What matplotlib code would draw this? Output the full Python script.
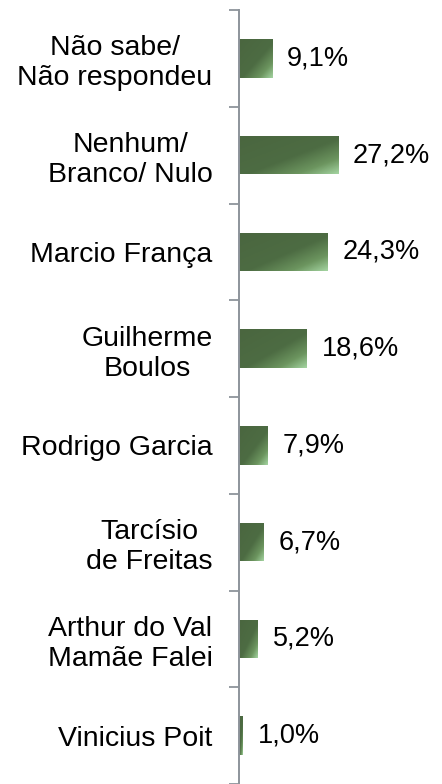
import matplotlib
matplotlib.use("Agg")
import matplotlib.pyplot as plt
import numpy as np
from matplotlib.colors import LinearSegmentedColormap

categories = ["Não sabe/\nNão respondeu", "Nenhum/\nBranco/ Nulo", "Marcio França",
              "Guilherme\nBoulos", "Rodrigo Garcia", "Tarcísio\nde Freitas",
              "Arthur do Val\nMamãe Falei", "Vinicius Poit"]
values = [9.1, 27.2, 24.3, 18.6, 7.9, 6.7, 5.2, 1.0]
value_labels = ["9,1%", "27,2%", "24,3%", "18,6%", "7,9%", "6,7%", "5,2%", "1,0%"]

plt.rcParams['font.family'] = ['Liberation Sans', 'DejaVu Sans']

fig = plt.figure(figsize=(4.42, 7.84), dpi=100)
ax = fig.add_axes([239/442, 0.0, 1 - 239/442, 1 - 10/784])

n = len(categories)
ypos = np.arange(n)
bar_h = 0.4
cmap = LinearSegmentedColormap.from_list(
    "g", [(0.0, "#4a663f"), (0.55, "#4d6c43"), (0.8, "#6c955f"), (1.0, "#a3d3a0")])

bars = ax.barh(ypos, values, height=bar_h, color="none", edgecolor="none")
gx = np.linspace(0, 1, 100)
gy = np.linspace(0, 1, 40)
GX, GY = np.meshgrid(gx, gy)
T = np.clip(0.5 * GX + 0.5 * GY, 0, 1)
for b, v, y in zip(bars, values, ypos):
    im = ax.imshow(T, cmap=cmap, vmin=0, vmax=1, aspect="auto",
                   extent=[0, v, y - bar_h/2, y + bar_h/2], origin="lower",
                   interpolation="bilinear", zorder=2)
    im.set_clip_path(b)

for v, y, lab in zip(values, ypos, value_labels):
    ax.annotate(lab, xy=(v, y), xytext=(15, 0), textcoords="offset pixels",
                ha="left", va="center", fontsize=19.5, color="black")

ax.set_xlim(0, 203/3.64)
ax.set_ylim(n - 0.5, -0.5)

ax.set_yticks(np.arange(-0.5, n, 1.0))
ax.set_yticklabels([])
ax.set_yticks(ypos, minor=True)
ax.set_yticklabels(categories, minor=True, fontsize=20.5)
for t in ax.get_yticklabels(minor=True):
    t.set_multialignment("center")
ax.tick_params(axis="y", which="major", length=7, width=1.3, color="#8d949b", direction="out")
ax.tick_params(axis="y", which="minor", length=0, pad=19)
ax.set_xticks([])
for s in ["top", "right", "bottom"]:
    ax.spines[s].set_visible(False)
ax.spines["left"].set_color("#8d949b")
ax.spines["left"].set_linewidth(1.4)

fig.savefig("out.png", dpi=100)
